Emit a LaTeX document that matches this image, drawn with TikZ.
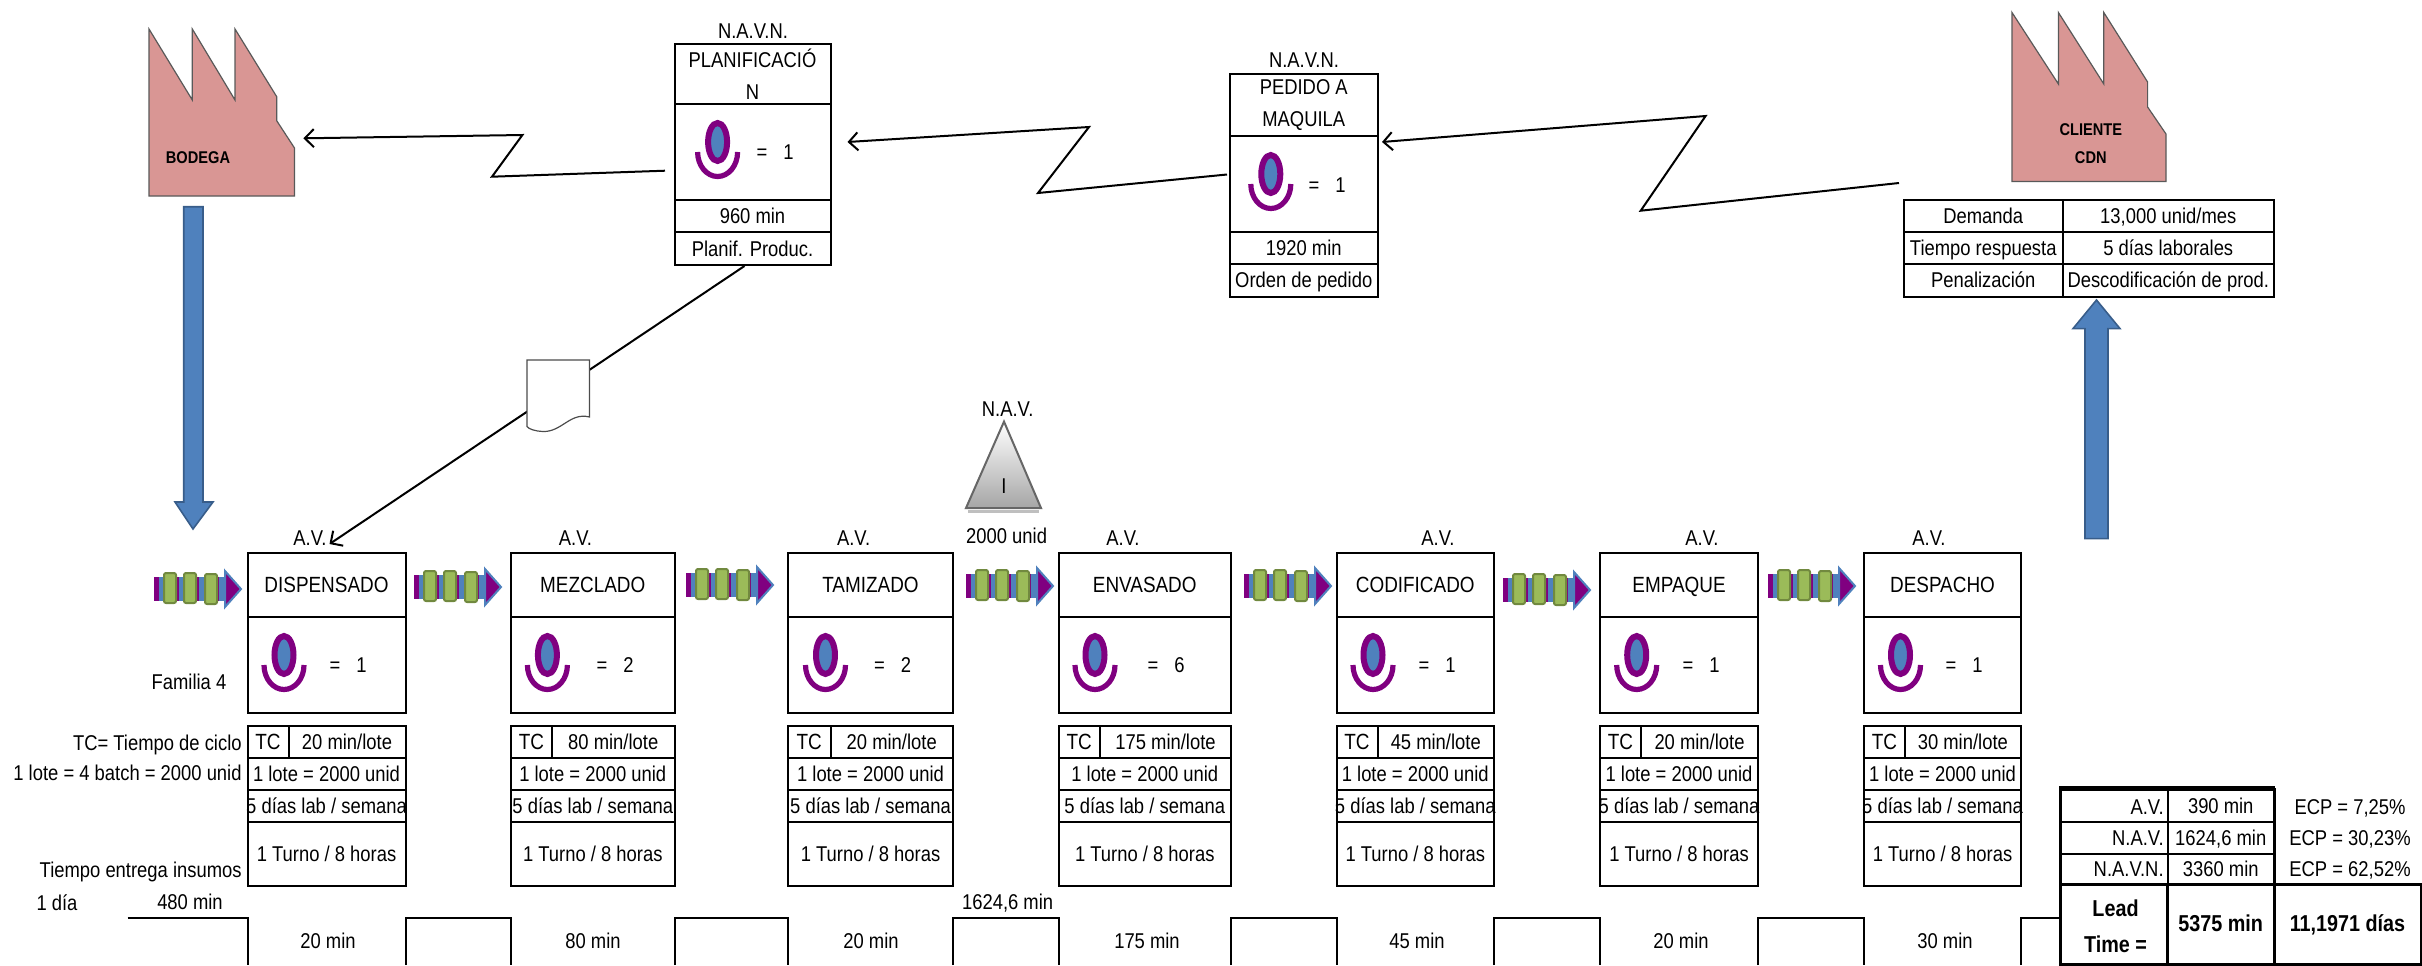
\documentclass[tikz,border=0pt]{standalone}
\usepackage{xcolor}
\usepackage{fontspec}
\setmainfont[FakeStretch=0.86]{Liberation Sans}
\usepackage{tikz}
\usetikzlibrary{arrows.meta}
\definecolor{azul}{HTML}{4F81BD}
\definecolor{azulosc}{HTML}{385D8A}
\definecolor{morado}{HTML}{800080}
\definecolor{oliva}{HTML}{9BBB59}
\definecolor{olivaosc}{HTML}{71893F}
\definecolor{rosa}{HTML}{D99694}
\tikzset{
    every node/.style={inner sep=0pt,text height=10pt,text depth=2.3pt,font=\fontsize{10.7}{13}\selectfont},
    varias/.style={align=center,text height=,text depth=},
    celda/.style={line width=1pt,fill=white},
    titulo/.style={font=\fontsize{11}{14}\selectfont},
    chico/.style={font=\fontsize{8.5}{11}\selectfont\bfseries},
    negrita/.style={font=\fontsize{11.5}{14}\selectfont\bfseries},
    fabrica/.style={fill=rosa,draw=black!65,line width=.6pt},
    flechaazul/.style={fill=azul,draw=azulosc,line width=.8pt},
    rayo/.style={line width=1pt,-{Straight Barb[length=4.5pt,width=9pt]}},
    escalera/.style={line width=1pt},
    operador/.pic={
        \draw[morado,line width=3pt,fill=azul] (0,22) ellipse (9.5 and 19);
        \draw[morado,line width=2.6pt] (20,32) arc (0:180:20 and 24.5);
    },
    empuje/.pic={
        \fill[azul] (0,-12) rectangle (71,12);
        \draw[morado,line width=12pt,dash pattern=on 2.5pt off 2.5pt] (0,0) -- (71,0);
        \draw[azul,fill=morado,line width=1pt] (71,-18) -- (87,0) -- (71,18) -- cycle;
        \draw[olivaosc,fill=oliva,line width=1pt,rounded corners=1pt] (10,-16) rectangle (22,14);
        \draw[olivaosc,fill=oliva,line width=1pt,rounded corners=1pt] (30,-16) rectangle (42,14);
        \draw[olivaosc,fill=oliva,line width=1pt,rounded corners=1pt] (51,-15) rectangle (63,15);
    }
}

\begin{document}
\begin{tikzpicture}[x=0.5pt,y=-0.5pt]
            \useasboundingbox (0,0) rectangle (2422,965);

            \draw[fabrica] (149,29) -- (192.3,100) -- (192.3,29) -- (235,100) -- (235,29) -- (276.7,96.7) -- (276.7,120.7) -- (294.5,148) -- (294.5,196) -- (149,196) -- cycle;
            \node[chico] (bodegatxt) at (198,155.7) {BODEGA};
            \node[minimum width=72.75pt,minimum height=83.5pt] (bodega) at (221.75,112.5) {};

            \draw[fabrica] (2012,12.5) -- (2058.4,84) -- (2058.4,12.5) -- (2103.8,84) -- (2103.8,12.5) -- (2147.6,82) -- (2147.6,107) -- (2166,134) -- (2166,181.4) -- (2012,181.4) -- cycle;
            \node[chico,varias] (cliente) at (2090.8,143.5) {CLIENTE\\[3pt]CDN};

            \node (planiftit) at (753,31) {N.A.V.N.};
            \draw[celda] (674.5,44) rectangle (830.5,104) node[pos=.5,varias] (planif1) {PLANIFICACIÓ\\[3pt]N};
            \draw[celda] (674.5,104) rectangle (830.5,200) node[pos=.5,minimum width=78pt,minimum height=48pt] (planif2) {};
            \draw[celda] (674.5,200) rectangle (830.5,232) node[pos=.5] (planif3) {960 min};
            \draw[celda] (674.5,232) rectangle (830.5,265) node[pos=.5,minimum width=78pt,minimum height=16.5pt] (planif4) {Planif. Produc.};
            \pic at (717.6,120) {operador};
            \node (planifop) at (775,152) {=\hspace{8pt}1};

            \node (pedidotit) at (1304,60) {N.A.V.N.};
            \draw[celda] (1229.5,74) rectangle (1378,136) node[pos=.5,varias] (pedido1) {PEDIDO A\\[3pt]MAQUILA};
            \draw[celda] (1229.5,136) rectangle (1378,232) node[pos=.5,minimum width=74.25pt,minimum height=48pt] (pedido2) {};
            \draw[celda] (1229.5,232) rectangle (1378,264) node[pos=.5] (pedido3) {1920 min};
            \draw[celda] (1229.5,264) rectangle (1378,296.5) node[pos=.5] (pedido4) {Orden de pedido};
            \pic at (1270.8,152) {operador};
            \node (pedidoop) at (1327,185) {=\hspace{8pt}1};

            \draw[celda] (1904,200) rectangle (2062.5,232) node[pos=.5,minimum width=79.25pt,minimum height=16pt] (demanda1) {Demanda};
            \draw[celda] (2062.5,200) rectangle (2274,232) node[pos=.5] (demanda2) {13,000 unid/mes};
            \draw[celda] (1904,232) rectangle (2062.5,264) node[pos=.5] (tiempo1) {Tiempo respuesta};
            \draw[celda] (2062.5,232) rectangle (2274,264) node[pos=.5] (tiempo2) {5 días laborales};
            \draw[celda] (1904,264) rectangle (2062.5,296.5) node[pos=.5] (penal1) {Penalización};
            \draw[celda] (2062.5,264) rectangle (2274,296.5) node[pos=.5] (penal2) {Descodificación de prod.};

            \draw[rayo] ([shift={(-8.5,18.7)}]planif2.west) -- (492,176.7) -- (522.4,135) -- ([shift={(8.5,25.8)}]bodega.east);
            \draw[rayo] ([shift={(-1.5,-9.5)}]pedido2.west) -- (1038,193) -- (1089,127) -- ([shift={(16,-10)}]planif2.east);
            \draw[rayo] ([shift={(-4,-16)}]demanda1.north west) -- (1640.7,210.7) -- (1705.6,116) -- ([shift={(3,-42)}]pedido2.east);

            \draw[flechaazul] (183.7,206.7) -- (203,206.7) -- (203,502) -- (213,502) -- (193,529) -- (175,502) -- (183.7,502) -- cycle;
            \draw[flechaazul] (2085,538.6) -- (2108,538.6) -- (2108,328.6) -- (2120,328.6) -- (2096.5,300) -- (2073,328.6) -- (2085,328.6) -- cycle;

            \node (navtit) at (1007.6,409) {N.A.V.};
            \draw[black!25,line width=1.5pt] (968,511) -- (1039,511);
            \draw[draw=black!60,line width=1pt,top color=white,bottom color=black!35] (1004,421.6) -- (1041,508) -- (966,508) -- cycle;
            \node (navI) at (1004,485.8) {I};
            \node (navund) at (1006.6,536) {2000 unid};

            \node (av1) at (310,538) {A.V.};
            \draw[celda] (247.5,553) rectangle (405.5,617) node[pos=.5,titulo,minimum width=79pt,minimum height=32pt] (disp1) {DISPENSADO};
            \draw[celda] (247.5,617) rectangle (405.5,713);
            \pic at (284,633) {operador};
            \node (disp2) at (348,665) {=\hspace{8pt}1};
            \draw[celda] (247.5,726) rectangle (288.5,757.5) node[pos=.5,titulo] (disp3) {TC};
            \draw[celda] (288.5,726) rectangle (405.5,757.5) node[pos=.5] (disp4) {20 min/lote};
            \draw[celda] (247.5,757.5) rectangle (405.5,789.5) node[pos=.5] (disp5) {1 lote = 2000 unid};
            \draw[celda] (247.5,789.5) rectangle (405.5,821.5) node[pos=.5] (disp6) {5 días lab / semana};
            \draw[celda] (247.5,821.5) rectangle (405.5,886) node[pos=.5] (disp7) {1 Turno / 8 horas};

            \node (av2) at (575.5,538) {A.V.};
            \draw[celda] (511,553) rectangle (674.5,617) node[pos=.5,titulo] (mezc1) {MEZCLADO};
            \draw[celda] (511,617) rectangle (674.5,713);
            \pic at (547.4,633) {operador};
            \node (mezc2) at (615,665) {=\hspace{8pt}2};
            \draw[celda] (511,726) rectangle (552,757.5) node[pos=.5,titulo] (mezc3) {TC};
            \draw[celda] (552,726) rectangle (674.5,757.5) node[pos=.5] (mezc4) {80 min/lote};
            \draw[celda] (511,757.5) rectangle (674.5,789.5) node[pos=.5] (mezc5) {1 lote = 2000 unid};
            \draw[celda] (511,789.5) rectangle (674.5,821.5) node[pos=.5] (mezc6) {5 días lab / semana};
            \draw[celda] (511,821.5) rectangle (674.5,886) node[pos=.5] (mezc7) {1 Turno / 8 horas};

            \node (av3) at (853.6,538) {A.V.};
            \draw[celda] (788,553) rectangle (953,617) node[pos=.5,titulo] (tami1) {TAMIZADO};
            \draw[celda] (788,617) rectangle (953,713);
            \pic at (825.5,633) {operador};
            \node (tami2) at (892.5,665) {=\hspace{8pt}2};
            \draw[celda] (788,726) rectangle (830.5,757.5) node[pos=.5,titulo] (tami3) {TC};
            \draw[celda] (830.5,726) rectangle (953,757.5) node[pos=.5] (tami4) {20 min/lote};
            \draw[celda] (788,757.5) rectangle (953,789.5) node[pos=.5] (tami5) {1 lote = 2000 unid};
            \draw[celda] (788,789.5) rectangle (953,821.5) node[pos=.5] (tami6) {5 días lab / semana};
            \draw[celda] (788,821.5) rectangle (953,886) node[pos=.5] (tami7) {1 Turno / 8 horas};

            \node (av4) at (1123,538) {A.V.};
            \draw[celda] (1058.5,553) rectangle (1231,617) node[pos=.5,titulo] (enva1) {ENVASADO};
            \draw[celda] (1058.5,617) rectangle (1231,713);
            \pic at (1095,633) {operador};
            \node (enva2) at (1166,665) {=\hspace{8pt}6};
            \draw[celda] (1058.5,726) rectangle (1100,757.5) node[pos=.5,titulo] (enva3) {TC};
            \draw[celda] (1100,726) rectangle (1231,757.5) node[pos=.5] (enva4) {175 min/lote};
            \draw[celda] (1058.5,757.5) rectangle (1231,789.5) node[pos=.5] (enva5) {1 lote = 2000 unid};
            \draw[celda] (1058.5,789.5) rectangle (1231,821.5) node[pos=.5] (enva6) {5 días lab / semana};
            \draw[celda] (1058.5,821.5) rectangle (1231,886) node[pos=.5] (enva7) {1 Turno / 8 horas};

            \node (av5) at (1438,538) {A.V.};
            \draw[celda] (1336.5,553) rectangle (1494,617) node[pos=.5,titulo] (codi1) {CODIFICADO};
            \draw[celda] (1336.5,617) rectangle (1494,713);
            \pic at (1373,633) {operador};
            \node (codi2) at (1437,665) {=\hspace{8pt}1};
            \draw[celda] (1336.5,726) rectangle (1377.5,757.5) node[pos=.5,titulo] (codi3) {TC};
            \draw[celda] (1377.5,726) rectangle (1494,757.5) node[pos=.5] (codi4) {45 min/lote};
            \draw[celda] (1336.5,757.5) rectangle (1494,789.5) node[pos=.5] (codi5) {1 lote = 2000 unid};
            \draw[celda] (1336.5,789.5) rectangle (1494,821.5) node[pos=.5] (codi6) {5 días lab / semana};
            \draw[celda] (1336.5,821.5) rectangle (1494,886) node[pos=.5] (codi7) {1 Turno / 8 horas};

            \node (av6) at (1702,538) {A.V.};
            \draw[celda] (1600,553) rectangle (1758,617) node[pos=.5,titulo] (empa1) {EMPAQUE};
            \draw[celda] (1600,617) rectangle (1758,713);
            \pic at (1636.7,633) {operador};
            \node (empa2) at (1701,665) {=\hspace{8pt}1};
            \draw[celda] (1600,726) rectangle (1641,757.5) node[pos=.5,titulo] (empa3) {TC};
            \draw[celda] (1641,726) rectangle (1758,757.5) node[pos=.5] (empa4) {20 min/lote};
            \draw[celda] (1600,757.5) rectangle (1758,789.5) node[pos=.5] (empa5) {1 lote = 2000 unid};
            \draw[celda] (1600,789.5) rectangle (1758,821.5) node[pos=.5] (empa6) {5 días lab / semana};
            \draw[celda] (1600,821.5) rectangle (1758,886) node[pos=.5] (empa7) {1 Turno / 8 horas};

            \node (av7) at (1929,538) {A.V.};
            \draw[celda] (1864,553) rectangle (2021,617) node[pos=.5,titulo] (desp1) {DESPACHO};
            \draw[celda] (1864,617) rectangle (2021,713);
            \pic at (1900.5,633) {operador};
            \node (desp2) at (1964,665) {=\hspace{8pt}1};
            \draw[celda] (1864,726) rectangle (1904.7,757.5) node[pos=.5,titulo] (desp3) {TC};
            \draw[celda] (1904.7,726) rectangle (2021,757.5) node[pos=.5] (desp4) {30 min/lote};
            \draw[celda] (1864,757.5) rectangle (2021,789.5) node[pos=.5] (desp5) {1 lote = 2000 unid};
            \draw[celda] (1864,789.5) rectangle (2021,821.5) node[pos=.5] (desp6) {5 días lab / semana};
            \draw[celda] (1864,821.5) rectangle (2021,886) node[pos=.5] (desp7) {1 Turno / 8 horas};

            \draw[line width=1pt,-{Straight Barb[length=4.5pt,width=9pt]}] ([xshift=-4pt]planif4.south) -- ([shift={(3,-8)}]disp1.north);
            \draw[line width=.6pt,fill=white,draw=black!70] (527,360) -- (589.5,360) -- (589.5,417) .. controls (570,412) and (562,432) .. (543,431.5) .. controls (534,431) and (529,429) .. (527,426.5) -- cycle;

            \pic at (154,589) {empuje};
            \pic at (414,587) {empuje};
            \pic at (686,585) {empuje};
            \pic at (966,586) {empuje};
            \pic at (1244,586) {empuje};
            \pic at (1503,590) {empuje};
            \pic at (1768,586) {empuje};

            \node (familia) at (189,681.7) {Familia 4};
            \node[anchor=east] (leyenda1) at (242,742.7) {TC= Tiempo de ciclo};
            \node[anchor=east] (leyenda2) at (242,773) {1 lote = 4 batch = 2000 unid};
            \node[anchor=east] (leyenda3) at (242,870) {Tiempo entrega insumos};
            \node (undia) at (57,903) {1 día};
            \node (espera1) at (190,901.7) {480 min};
            \node (espera2) at (1007.6,901.6) {1624,6 min};

            \draw[escalera] (127.5,917.5) -- (247.5,917.5) -- (247.5,965);
            \draw[escalera] (405.5,965) -- (405.5,917.5) -- (511,917.5) -- (511,965);
            \draw[escalera] (674.5,965) -- (674.5,917.5) -- (788,917.5) -- (788,965);
            \draw[escalera] (953,965) -- (953,917.5) -- (1058.5,917.5) -- (1058.5,965);
            \draw[escalera] (1231,965) -- (1231,917.5) -- (1336.5,917.5) -- (1336.5,965);
            \draw[escalera] (1494,965) -- (1494,917.5) -- (1600,917.5) -- (1600,965);
            \draw[escalera] (1758,965) -- (1758,917.5) -- (1864,917.5) -- (1864,965);
            \draw[escalera] (2021,965) -- (2021,917.5) -- (2060,917.5);

            \node (t1) at (328,940.7) {20 min};
            \node (t2) at (593,940.7) {80 min};
            \node (t3) at (871,940.7) {20 min};
            \node (t4) at (1147,940.7) {175 min};
            \node (t5) at (1417,940.7) {45 min};
            \node (t6) at (1681,940.7) {20 min};
            \node (t7) at (1945,940.7) {30 min};

            \draw[celda] (2060.5,790) rectangle (2167.5,821.5);
            \draw[celda] (2167.5,790) rectangle (2274,821.5) node[pos=.5] (sumav2) {390 min};
            \draw[celda] (2060.5,821.5) rectangle (2167.5,853.5);
            \draw[celda] (2167.5,821.5) rectangle (2274,853.5) node[pos=.5] (sumnav2) {1624,6 min};
            \draw[celda] (2060.5,853.5) rectangle (2167.5,884);
            \draw[celda] (2167.5,853.5) rectangle (2274,884) node[pos=.5] (sumnavn2) {3360 min};
            \node[anchor=east] (sumav1) at (2164,806.7) {A.V.};
            \node[anchor=east] (sumnav1) at (2164,837.7) {N.A.V.};
            \node[anchor=east] (sumnavn1) at (2164,869) {N.A.V.N.};
            \node (ecp1) at (2350,806.7) {ECP = 7,25\%};
            \node (ecp2) at (2350,837.7) {ECP = 30,23\%};
            \node (ecp3) at (2350,869) {ECP = 62,52\%};
            \draw[line width=1.5pt,fill=white] (2060.5,884) rectangle (2167.5,964);
            \draw[line width=1.5pt,fill=white] (2167.5,884) rectangle (2274,964) node[pos=.5,negrita] (lead2) {5375 min};
            \draw[line width=1.5pt,fill=white] (2274,884) rectangle (2421,964) node[pos=.5,negrita] (lead3) {11,1971 días};
            \node[negrita,varias] (lead1) at (2115.5,926) {Lead\\[4pt]Time =};
            \draw[line width=2.5pt] (2059,788) -- (2275,788);
            \draw[line width=1.5pt] (2060.5,788) -- (2060.5,884);
            \draw[line width=1.5pt] (2274,788) -- (2274,884);
         \end{tikzpicture}
\end{document}
